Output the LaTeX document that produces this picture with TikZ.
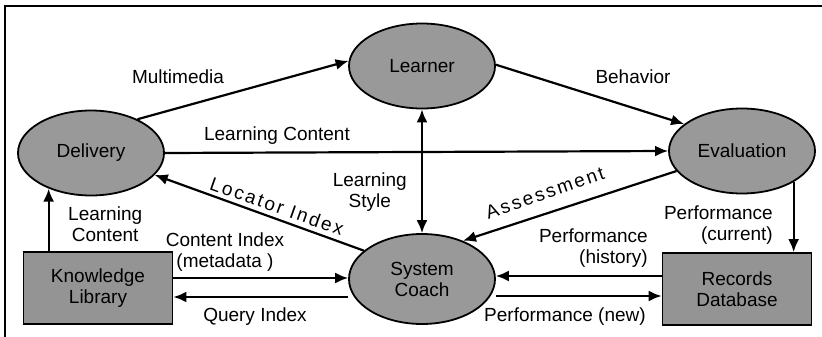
\documentclass[tikz,border=0pt]{standalone}
\usepackage{fontspec}
\setmainfont{Liberation Sans}
\usetikzlibrary{arrows.meta,shapes.geometric}

\tikzstyle{place} = [ellipse, draw=black, fill=black!40, line width=1.8pt, minimum width=146pt, minimum height=85pt, inner sep=0pt, align=center]
\tikzstyle{store} = [rectangle, draw=black, fill=black!42, line width=1.8pt, minimum width=149pt, minimum height=72pt, inner sep=0pt, align=center]
\tikzstyle{flow}  = [->, line width=2.2pt]
\tikzstyle{lbl}   = [align=center, inner sep=0pt]
\def\spaced{\addfontfeatures{LetterSpace=12}}

\begin{document}
\begin{tikzpicture}[x=1pt, y=-1pt, >={Latex[length=13pt,width=11pt]},
    font=\fontsize{19}{21}\selectfont]
  \useasboundingbox (0,0) rectangle (822,337);
  \draw[line width=2pt] (5,337) -- (5,6) -- (822,6);

  % nodes
  \node[place] (learner)  at (422,66)  {Learner};
  \node[place] (delivery) at (91,153)  {Delivery};
  \node[place] (eval)     at (742,151) {Evaluation};
  \node[place, minimum height=90pt] (coach) at (422,279) {System\\Coach};
  \node[store] (library)  at (98,288)  {Knowledge\\Library};
  \node[store] (records)  at (737,289) {Records\\Database};

  % flows
  \draw[flow] (delivery.36) -- (learner.176);
  \draw[flow] (learner.1) -- (eval.155);
  \draw[flow] (delivery.east) -- (eval.west);
  \draw[flow, <->] (learner) -- (coach);
  \draw[flow] (coach.154) -- (delivery.-19);
  \draw[flow] (eval.197) -- (coach.43);
  \draw[flow] (eval.-31) -- (eval.-31 |- records.north);
  \draw[flow] (delivery.220 |- library.north) -- (delivery.220);
  \draw[flow] ([yshift=10pt]library.east) -- ([yshift=10pt]library.east -| coach.west);
  \draw[flow] ([yshift=-9pt]library.east -| coach.west) -- ([yshift=-9pt]library.east);
  \draw[flow] ([yshift=13pt]records.west) -- ([yshift=13pt]records.west -| coach.east);
  \draw[flow] ([yshift=-7pt]records.west -| coach.east) -- ([yshift=-7pt]records.west);

  % labels
  \node[lbl] (multimedia) at (178,77)  {Multimedia};
  \node[lbl] (behavior)   at (633,77)  {Behavior};
  \node[lbl] (content)    at (277,136) {Learning Content};
  \node[lbl, anchor=east] (style) at (407,192) {Learning\\Style};
  \node[lbl, rotate=-19.5] (locator) at (277,206) {\spaced Locator Index};
  \node[lbl, rotate=19] (assess) at (545,193) {\spaced Assessment};
  \node[lbl, anchor=west] (libcontent) at (68,224) {Learning\\Content};
  \node[lbl] (index)   at (225,252) {Content Index\\(metadata )};
  \node[lbl] (query)   at (255,317) {Query Index};
  \node[lbl, align=right, anchor=east] (history) at (648,248) {Performance\\(history)};
  \node[lbl, align=right, anchor=east] (current) at (773,225) {Performance\\(current)};
  \node[lbl] (new)     at (565,317) {Performance (new)};
\end{tikzpicture}
\end{document}
